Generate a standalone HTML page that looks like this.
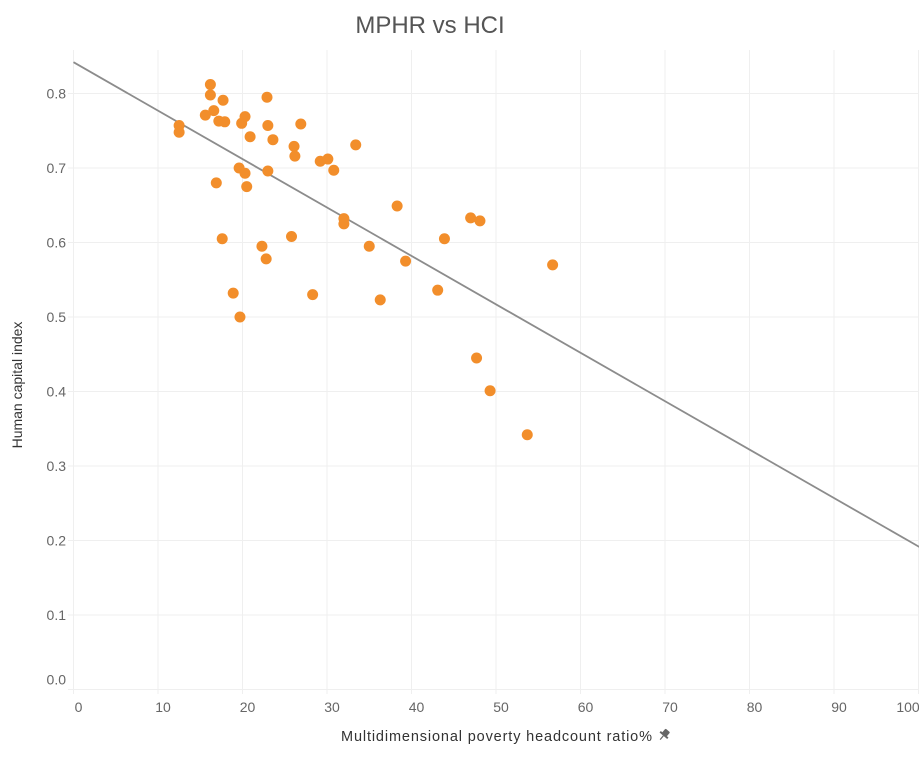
<!DOCTYPE html>
<html><head><meta charset="utf-8"><style>
body{margin:0;background:#fff;font-family:"Liberation Sans",sans-serif}
svg text{font-family:"Liberation Sans",sans-serif}
</style></head><body>
<svg id="chart" width="919" height="759">
<text x="430" y="33" text-anchor="middle" font-size="24" fill="#555">MPHR vs HCI</text>
<g id="grid"></g><g id="trend"></g><g id="pts"></g><g id="axes"></g>
<text transform="translate(22,385) rotate(-90)" text-anchor="middle" font-size="14" fill="#333">Human capital index</text>
<text x="341" y="741" font-size="14.5" textLength="311" lengthAdjust="spacing" fill="#333">Multidimensional poverty headcount ratio%</text>
<g transform="translate(664,735) rotate(40)" fill="#666">
<rect x="-3" y="-6" width="6" height="6" rx="1"/><rect x="-5" y="-1" width="10" height="2"/><rect x="-0.6" y="1" width="1.2" height="5"/>
</g>
</svg>
<script>
const xVals=[16.2,16.2,17.7,22.9,15.6,16.6,17.2,17.9,12.5,12.5,20.3,19.9,23.0,26.9,20.9,23.6,33.4,26.1,26.2,29.2,30.1,30.8,19.6,20.3,23.0,16.9,20.5,38.3,47.0,48.1,32.0,32.0,17.6,43.9,25.8,22.3,35.0,22.8,39.3,56.7,18.9,28.3,36.3,43.1,19.7,47.7,49.3,53.7];
const yVals=[0.812,0.798,0.791,0.795,0.771,0.777,0.763,0.762,0.757,0.748,0.769,0.760,0.757,0.759,0.742,0.738,0.731,0.729,0.716,0.709,0.712,0.697,0.700,0.693,0.696,0.680,0.675,0.649,0.633,0.629,0.632,0.625,0.605,0.605,0.608,0.595,0.595,0.578,0.575,0.570,0.532,0.530,0.523,0.536,0.500,0.445,0.401,0.342];
const xTicks=[0,10,20,30,40,50,60,70,80,90,100];
const yTicks=[0.0,0.1,0.2,0.3,0.4,0.5,0.6,0.7,0.8];
const trendIntercept=[0.842];
const trendSlope=[-0.0065];
const NS="http://www.w3.org/2000/svg";
const X=v=>73.5+v*8.45, Y=v=>689.5-v*745;
function mk(t,a,p){const e=document.createElementNS(NS,t);for(const k in a)e.setAttribute(k,a[k]);p.appendChild(e);return e;}
const grid=document.getElementById('grid'),axes=document.getElementById('axes');
xTicks.forEach(t=>{
 const l=mk('line',{x1:X(t),x2:X(t),y1:50,y2:694,stroke:'#efefef'},grid);
 
 
 const tx=mk('text',{x:Math.min(X(t)+5,908),y:712,'text-anchor':'middle','font-size':14,fill:'#666'},axes);
 tx.textContent=t;
 
 
});
yTicks.forEach(t=>{
 const l=mk('line',{x1:68,x2:919,y1:Y(t),y2:Y(t),stroke:'#efefef'},grid);
 
 
 const ty=t===0?Y(t)-10:Y(t);
 const tx=mk('text',{x:66,y:ty+5,'text-anchor':'end','font-size':14,fill:'#666'},axes);
 tx.textContent=t.toFixed(1);
 
 
});
const tl=mk('line',{x1:X(0),y1:Y(trendIntercept[0]),x2:X(100.5),y2:Y(trendIntercept[0]+trendSlope[0]*100.5),stroke:'#8c8c8c','stroke-width':1.8},document.getElementById('trend'));


const pts=document.getElementById('pts');
xVals.forEach((x,i)=>{
 const c=mk('circle',{cx:X(x),cy:Y(yVals[i]),r:5.5,fill:'#f28e2b'},pts);
 
 
});
</script>
</body></html>
